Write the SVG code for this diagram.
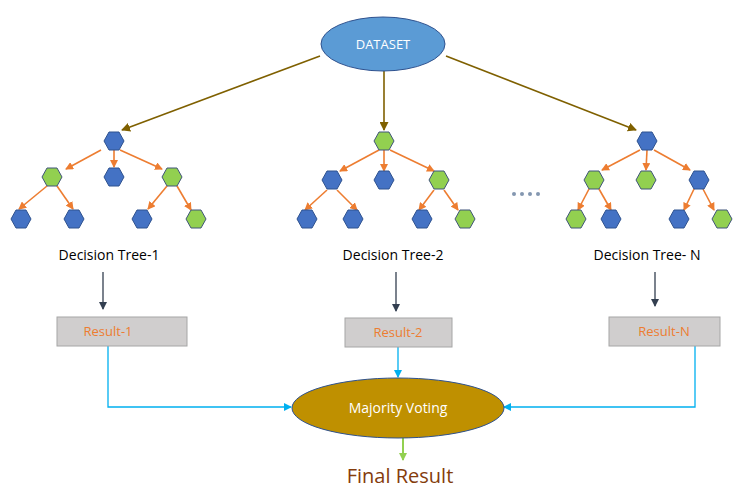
<svg xmlns="http://www.w3.org/2000/svg" width="750" height="498" viewBox="0 0 750 498">
<style>
.b{fill:#4472c4;stroke:#2f528f;stroke-width:1}
.g{fill:#92d050;stroke:#41557a;stroke-width:1}
.e{stroke:#ed7d31;stroke-width:1.6;fill:none;marker-end:url(#ao)}
.t{font-family:"Open Sans","Liberation Sans",sans-serif;font-size:14px;fill:#000;text-anchor:middle}
.r{fill:#d0cece;stroke:#a6a6a6;stroke-width:1}
.rt{font-family:"Open Sans","Liberation Sans",sans-serif;font-size:13px;fill:#ed7d31;text-anchor:middle}
</style>
<defs>
<marker id="ao" markerWidth="8" markerHeight="8" refX="7" refY="4" orient="auto" markerUnits="userSpaceOnUse"><path d="M0,0L8,4L0,8z" fill="#ed7d31"/></marker>
<marker id="ab" markerWidth="9" markerHeight="9" refX="8" refY="4.5" orient="auto" markerUnits="userSpaceOnUse"><path d="M0,0L9,4.5L0,9z" fill="#7f6000"/></marker>
<marker id="ad" markerWidth="8" markerHeight="8" refX="7" refY="4" orient="auto" markerUnits="userSpaceOnUse"><path d="M0,0L8,4L0,8z" fill="#333f50"/></marker>
<marker id="ac" markerWidth="8" markerHeight="8" refX="7" refY="4" orient="auto" markerUnits="userSpaceOnUse"><path d="M0,0L8,4L0,8z" fill="#00b0f0"/></marker>
<marker id="ag" markerWidth="8" markerHeight="8" refX="7" refY="4" orient="auto" markerUnits="userSpaceOnUse"><path d="M0,0L8,4L0,8z" fill="#92d050"/></marker>
</defs>
<g id="connectors">
<line x1="320" y1="56" x2="122" y2="130" stroke="#7f6000" stroke-width="1.6" marker-end="url(#ab)"/>
<line x1="384" y1="71" x2="384" y2="130" stroke="#7f6000" stroke-width="1.6" marker-end="url(#ab)"/>
<line x1="446" y1="56" x2="636" y2="130" stroke="#7f6000" stroke-width="1.6" marker-end="url(#ab)"/>
<!-- tree1 -->
<line class="e" x1="101" y1="150" x2="66" y2="169"/>
<line class="e" x1="114" y1="150" x2="114" y2="167"/>
<line class="e" x1="120" y1="150" x2="162" y2="169"/>
<line class="e" x1="47" y1="186" x2="19" y2="209"/>
<line class="e" x1="57" y1="186" x2="73" y2="209"/>
<line class="e" x1="167" y1="186" x2="148" y2="209"/>
<line class="e" x1="177" y1="186" x2="191" y2="210"/>
<!-- tree2 -->
<line class="e" x1="379" y1="150" x2="340" y2="171"/>
<line class="e" x1="384" y1="150" x2="384" y2="171"/>
<line class="e" x1="390" y1="150" x2="434" y2="171"/>
<line class="e" x1="327" y1="190" x2="305" y2="210"/>
<line class="e" x1="337" y1="190" x2="357" y2="210"/>
<line class="e" x1="434" y1="190" x2="419" y2="210"/>
<line class="e" x1="444" y1="190" x2="458" y2="210"/>
<!-- tree3 -->
<line class="e" x1="640" y1="150" x2="602" y2="170"/>
<line class="e" x1="647" y1="150" x2="646" y2="170"/>
<line class="e" x1="654" y1="150" x2="690" y2="170"/>
<line class="e" x1="589" y1="189" x2="578" y2="210"/>
<line class="e" x1="599" y1="189" x2="611" y2="210"/>
<line class="e" x1="694" y1="189" x2="684" y2="210"/>
<line class="e" x1="703" y1="189" x2="714" y2="210"/>
<line x1="103" y1="272" x2="103" y2="309" stroke="#333f50" stroke-width="1.3" marker-end="url(#ad)"/>
<line x1="396" y1="272" x2="396" y2="311" stroke="#333f50" stroke-width="1.3" marker-end="url(#ad)"/>
<line x1="655" y1="272" x2="655" y2="306" stroke="#333f50" stroke-width="1.3" marker-end="url(#ad)"/>
<polyline points="108,346 108,407 291,407" fill="none" stroke="#00b0f0" stroke-width="1.3" marker-end="url(#ac)"/>
<line x1="398" y1="347" x2="398" y2="377" stroke="#00b0f0" stroke-width="1.3" marker-end="url(#ac)"/>
<polyline points="695,346 695,407 504,407" fill="none" stroke="#00b0f0" stroke-width="1.3" marker-end="url(#ac)"/>
<line x1="403" y1="438" x2="403" y2="460" stroke="#92d050" stroke-width="2" marker-end="url(#ag)"/>
</g>
<g id="dataset"><ellipse cx="383" cy="44" rx="62" ry="27" fill="#5b9bd5" stroke="#2f528f"/><text x="383" y="49" class="t" style="fill:#fff;font-size:13px">DATASET</text></g>
<g id="tree1">
<polygon class="b" points="104,141 109,132 119,132 124,141 119,150 109,150"/>
<polygon class="g" points="42,177 47,168 57,168 62,177 57,186 47,186"/>
<polygon class="b" points="104,177 109,168 119,168 124,177 119,186 109,186"/>
<polygon class="g" points="162,177 167,168 177,168 182,177 177,186 167,186"/>
<polygon class="b" points="11,219 16,210 26,210 31,219 26,228 16,228"/>
<polygon class="b" points="64,219 69,210 79,210 84,219 79,228 69,228"/>
<polygon class="b" points="132,219 137,210 147,210 152,219 147,228 137,228"/>
<polygon class="g" points="186,219 191,210 201,210 206,219 201,228 191,228"/>
</g>
<g id="tree2">
<polygon class="g" points="374,141 379,132 389,132 394,141 389,150 379,150"/>
<polygon class="b" points="322,180 327,171 337,171 342,180 337,189 327,189"/>
<polygon class="b" points="374,180 379,171 389,171 394,180 389,189 379,189"/>
<polygon class="g" points="429,180 434,171 444,171 449,180 444,189 434,189"/>
<polygon class="b" points="297,219 302,210 312,210 317,219 312,228 302,228"/>
<polygon class="b" points="343,219 348,210 358,210 363,219 358,228 348,228"/>
<polygon class="b" points="412,219 417,210 427,210 432,219 427,228 417,228"/>
<polygon class="g" points="455,219 460,210 470,210 475,219 470,228 460,228"/>
</g>
<g id="dots" fill="#8497b0"><circle cx="514" cy="194" r="2"/><circle cx="522" cy="194" r="2"/><circle cx="530" cy="194" r="2"/><circle cx="538" cy="194" r="2"/></g>
<g id="tree3">
<polygon class="b" points="637,141 642,132 652,132 657,141 652,150 642,150"/>
<polygon class="g" points="584,180 589,171 599,171 604,180 599,189 589,189"/>
<polygon class="g" points="636,180 641,171 651,171 656,180 651,189 641,189"/>
<polygon class="b" points="689,180 694,171 704,171 709,180 704,189 694,189"/>
<polygon class="g" points="566,219 571,210 581,210 586,219 581,228 571,228"/>
<polygon class="b" points="601,219 606,210 616,210 621,219 616,228 606,228"/>
<polygon class="b" points="669,219 674,210 684,210 689,219 684,228 674,228"/>
<polygon class="g" points="712,219 717,210 727,210 732,219 727,228 717,228"/>
</g>
<g id="labels">
<text x="109" y="260" class="t">Decision Tree-1</text>
<text x="393" y="260" class="t">Decision Tree-2</text>
<text x="647" y="260" class="t">Decision Tree- N</text>
</g>
<g id="result1"><rect class="r" x="57" y="317" width="130" height="29"/><text x="108" y="336" class="rt">Result-1</text></g>
<g id="result2"><rect class="r" x="345" y="318" width="107" height="29"/><text x="398" y="337" class="rt">Result-2</text></g>
<g id="resultN"><rect class="r" x="609" y="317" width="111" height="29"/><text x="664" y="336" class="rt">Result-N</text></g>
<g id="voting"><ellipse cx="398" cy="408" rx="106" ry="30" fill="#bf9000" stroke="#2f528f"/><text x="398" y="413" class="t" style="fill:#fff">Majority Voting</text></g>
<g id="final"><text x="400" y="483" class="t" style="fill:#843c0c;font-size:20px">Final Result</text></g>
</svg>
